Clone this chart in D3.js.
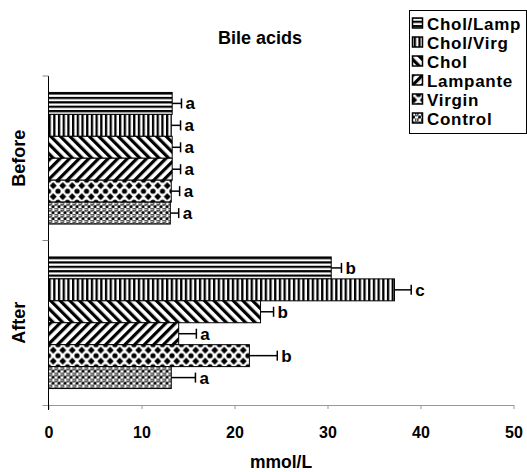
<!DOCTYPE html>
<html>
<head>
<meta charset="utf-8">
<script src="https://cdnjs.cloudflare.com/ajax/libs/d3/7.8.5/d3.min.js"></script>
<style>
  body { margin: 0; background: #fff; }
  text { font-family: "Liberation Sans", Arial, sans-serif; font-weight: bold; fill: #000; }
</style>
</head>
<body>
<svg width="527" height="472"></svg>
<script>
// groups on the y axis, series inside each group (top to bottom)
var groups = ["Before", "After"];
var series = ["Chol/Lamp", "Chol/Virg", "Chol", "Lampante", "Virgin", "Control"];
var beforeVals = [13.3, 13.2, 13.3, 13.3, 13.2, 13.1];
var afterVals = [30.4, 37.2, 22.8, 14.0, 21.6, 13.2];
var beforeErr = [1.0, 1.0, 0.9, 0.9, 0.9, 0.9];
var afterErr = [1.1, 1.8, 1.4, 1.9, 3.0, 2.6];
var beforeSig = ["a", "a", "a", "a", "a", "a"];
var afterSig = ["b", "c", "b", "a", "b", "a"];
var xTicks = [0, 10, 20, 30, 40, 50];

var margin = { top: 76, left: 48.5, right: 13.5, bottom: 67 },
    width = 527 - margin.left - margin.right,
    height = 472 - margin.top - margin.bottom;

var svg = d3.select("svg");
var defs = svg.append("defs");

// hatch patterns
function stripes(id, w, h, rot, bw, horiz) {
    var p = defs.append("pattern")
        .attr("id", id)
        .attr("patternUnits", "userSpaceOnUse")
        .attr("width", w).attr("height", h);
    if (rot) p.attr("patternTransform", "rotate(" + rot + ")");
    p.append("rect").attr("width", w).attr("height", h).attr("fill", "#fff");
    if (horiz) p.append("rect").attr("width", w).attr("height", bw).attr("fill", "#000");
    else p.append("rect").attr("width", bw).attr("height", h).attr("fill", "#000");
}
stripes("p0", 10, 4.4, 0, 2.2, true);
stripes("p1", 4.7, 10, 0, 2.3, false);
stripes("p2", 6.8, 10, -45, 3.2, false);
stripes("p3", 6.8, 10, 45, 3.2, false);

// diamonds + dots
var pv = defs.append("pattern")
    .attr("id", "p4")
    .attr("patternUnits", "userSpaceOnUse")
    .attr("width", 9.5).attr("height", 11);
pv.append("rect").attr("width", 9.5).attr("height", 11).attr("fill", "#fff");
pv.append("path").attr("fill", "#000")
    .attr("d", "M4.75,2 L8.25,5.5 L4.75,9 L1.25,5.5 Z");
[[0, 0], [9.5, 0], [0, 11], [9.5, 11]].forEach(function(c) {
    pv.append("circle").attr("cx", c[0]).attr("cy", c[1]).attr("r", 2.6).attr("fill", "#000");
});

// rings checker
var pc = defs.append("pattern")
    .attr("id", "p5")
    .attr("patternUnits", "userSpaceOnUse")
    .attr("width", 6).attr("height", 6);
pc.append("rect").attr("width", 6).attr("height", 6).attr("fill", "#fff");
pc.append("circle").attr("cx", 1.5).attr("cy", 1.5).attr("r", 1.6).attr("fill", "none").attr("stroke", "#000").attr("stroke-width", 1.1);
pc.append("circle").attr("cx", 4.5).attr("cy", 4.5).attr("r", 1.6).attr("fill", "#000");

var g = svg.append("g")
    .attr("transform", "translate(" + margin.left + "," + margin.top + ")");

var x = d3.scaleLinear().domain([0, 50]).range([0, width]);
var y0 = d3.scaleBand().domain(groups).range([0, height]);
var y1 = d3.scaleBand().domain(series)
    .range([y0.bandwidth() * 0.1, y0.bandwidth() * 0.9]);

// x axis
var xAxis = g.append("g")
    .attr("transform", "translate(0," + height + ")")
    .call(d3.axisBottom(x).tickValues(xTicks).tickSize(4).tickSizeOuter(0).tickPadding(18));
xAxis.select(".domain").attr("stroke", "#999").attr("d", "M-6,0.5H" + (width + 0.5));
xAxis.selectAll(".tick line").attr("stroke", "#999");
xAxis.selectAll(".tick text").style("font-size", "16px").style("font-family", "Liberation Sans, Arial").style("font-weight", "bold");

// y axis
g.append("line").attr("x1", 0).attr("x2", 0).attr("y1", 0).attr("y2", height + 5).attr("stroke", "#000");
[0, height / 2].forEach(function(t) {
    g.append("line").attr("x1", -6).attr("x2", 0).attr("y1", t).attr("y2", t).attr("stroke", "#888");
});
groups.forEach(function(gr) {
    g.append("text")
        .attr("transform", "translate(-23.5," + (y0(gr) + y0.bandwidth() / 2) + ") rotate(-90)")
        .attr("text-anchor", "middle")
        .style("font-size", "18px")
        .text(gr);
});

var data = [];
series.forEach(function(s, i) {
    data.push({ group: "Before", s: s, i: i, v: beforeVals[i], e: beforeErr[i], sig: beforeSig[i] });
    data.push({ group: "After", s: s, i: i, v: afterVals[i], e: afterErr[i], sig: afterSig[i] });
});

var bars = g.selectAll(".bar").data(data).enter().append("g")
    .attr("transform", function(d) { return "translate(0," + (y0(d.group) + y1(d.s)) + ")"; });

var bh = y1.bandwidth();
bars.append("rect")
    .attr("x", 0)
    .attr("y", 0)
    .attr("width", function(d) { return x(d.v); })
    .attr("height", bh)
    .attr("fill", function(d) { return "url(#p" + d.i + ")"; })
    .attr("stroke", "#000")
    .attr("stroke-width", 1);

bars.append("line")
    .attr("x1", function(d) { return x(d.v); })
    .attr("x2", function(d) { return x(d.v + d.e); })
    .attr("y1", bh / 2).attr("y2", bh / 2)
    .attr("stroke", "#000").attr("stroke-width", 1.5);
bars.append("line")
    .attr("x1", function(d) { return x(d.v + d.e); })
    .attr("x2", function(d) { return x(d.v + d.e); })
    .attr("y1", bh / 2 - 5).attr("y2", bh / 2 + 5)
    .attr("stroke", "#000").attr("stroke-width", 1.5);
bars.append("text")
    .attr("x", function(d) { return x(d.v + d.e) + 4; })
    .attr("y", bh / 2 + 6)
    .style("font-size", "17px")
    .text(function(d) { return d.sig; });

// title
svg.append("text")
    .attr("x", 260).attr("y", 44)
    .attr("text-anchor", "middle")
    .style("font-size", "18px")
    .text("Bile acids");

// x label
svg.append("text")
    .attr("x", margin.left + width / 2).attr("y", 468)
    .attr("text-anchor", "middle")
    .style("font-size", "17.5px")
    .text("mmol/L");

// legend
var leg = svg.append("g").attr("transform", "translate(409,10)");
leg.append("rect").attr("x", 0.5).attr("y", 0.5).attr("width", 117).attr("height", 123)
    .attr("fill", "#fff").attr("stroke", "#000");
series.forEach(function(s, i) {
    var row = leg.append("g").attr("transform", "translate(0," + (19.5 + i * 19) + ")");
    row.append("rect").attr("x", 3.5).attr("y", -11.5).attr("width", 10).attr("height", 10)
        .attr("fill", "url(#p" + i + ")").attr("stroke", "#000").attr("stroke-width", 1.5);
    row.append("text").attr("x", 18)
        .style("font-size", "17px")
        .style("letter-spacing", "0.7px")
        .text(s);
});
</script>
</body>
</html>
